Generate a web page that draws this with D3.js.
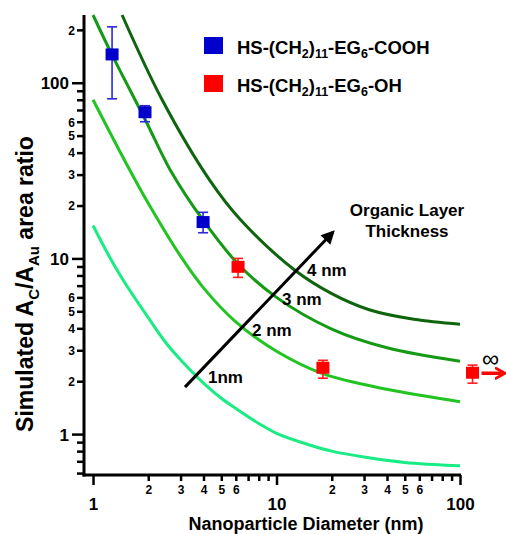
<!DOCTYPE html>
<html>
<head>
<meta charset="utf-8">
<script src="https://cdn.jsdelivr.net/npm/d3@7.9.0/dist/d3.min.js"></script>
<style>
  body { margin: 0; background: #fff; }
  svg { display: block; font-family: "Liberation Sans", Arial, sans-serif; font-weight: bold; }
</style>
</head>
<body>
<svg id="chart" width="506" height="534"></svg>
<script>
// curves: [diameter nm, simulated area ratio]
const curve1nm = [[1, 15.4], [1.25, 9.9], [1.5, 7.2], [2, 4.6], [2.5, 3.3], [3, 2.65], [4, 1.95], [5, 1.6], [6, 1.4], [8, 1.15], [10, 1.01], [15, 0.87], [20, 0.8], [30, 0.74], [50, 0.69], [100, 0.66]];
const curve2nm = [[1, 80], [1.5, 35.5], [2, 20.6], [3, 10.3], [4, 6.8], [6, 4.35], [10, 2.96], [18, 2.2], [40, 1.8], [100, 1.53]];
const curve3nm = [[1, 243], [1.27, 144], [1.92, 62], [2.63, 32], [3.98, 16.5], [6.17, 9.3], [10, 6.0], [20, 3.96], [40, 3.1], [100, 2.6]];
const curve4nm = [[1.44, 243], [2.38, 80], [4.34, 27.7], [6.33, 16.7], [12.6, 8.56], [20, 6.3], [32, 5.1], [56, 4.5], [100, 4.22]];
const curveNames = ['1nm', '2 nm', '3 nm', '4 nm'];

// measured points: diameter, ratio, error low, error high
const cooh = [[1.27, 144, 81, 208], [1.92, 67.5, 60, 74], [3.98, 16, 14, 18.3]];
const oh = [[6.17, 8.9, 7.8, 10.0], [17.9, 2.37, 2.08, 2.63], [117, 2.22, 1.95, 2.47]];

const xTicks = [1, 2, 3, 4, 5, 6, 7, 8, 9, 10, 20, 30, 40, 50, 60, 70, 80, 90, 100];
const yTicks = [0.6, 0.7, 0.8, 0.9, 1, 2, 3, 4, 5, 6, 7, 8, 9, 10, 20, 30, 40, 50, 60, 70, 80, 90, 100, 200];

// arrow for organic layer thickness, in data units
const arrowFrom = [3.17, 1.85];
const arrowTo = [20.3, 14.1];

const svg = d3.select('#chart');

const x = d3.scaleLog().domain([0.893, 100]).range([84, 460]);
const y = d3.scaleLog().domain([0.585, 243]).range([475, 15]);

const isMajor = v => Math.abs(Math.log10(v) - Math.round(Math.log10(v))) < 1e-9;
const lead = v => Math.round(v / Math.pow(10, Math.floor(Math.log10(v) + 1e-9)));
const tickText = v => isMajor(v) ? String(v) : (v > 1 && lead(v) <= 6 ? String(lead(v)) : '');

// curves
const colors = ['#19ec84', '#22c422', '#149a14', '#0e650e'];
const line = d3.line().x(d => x(d[0])).y(d => y(d[1])).curve(d3.curveCatmullRom.alpha(0.5));
[curve1nm, curve2nm, curve3nm, curve4nm].forEach((c, i) => {
  svg.append('path')
    .attr('d', line(c))
    .attr('fill', 'none')
    .attr('stroke', colors[i])
    .attr('stroke-width', 3);
});

// y axis
const yAxis = svg.append('g')
  .attr('transform', `translate(${x(0.893)},0)`)
  .call(d3.axisLeft(y).tickValues(yTicks).tickFormat(tickText).tickSizeOuter(0));
yAxis.select('.domain').attr('stroke-width', 3).attr('d', `M0,${y(243)}V${y(0.585) + 1.5}`);
yAxis.selectAll('.tick line').attr('stroke-width', 2.5).attr('x2', d => isMajor(d) ? -12 : -7);
yAxis.selectAll('.tick text')
  .attr('x', d => isMajor(d) ? -15 : -9)
  .attr('dy', '0.36em')
  .style('font-size', d => isMajor(d) ? '17px' : '12px')
  .style('font-family', '"Liberation Sans", Arial, sans-serif')
  .style('font-weight', 'bold')
  .attr('fill', '#000');

// x axis
const xAxis = svg.append('g')
  .attr('transform', `translate(0,${y(0.585)})`)
  .call(d3.axisBottom(x).tickValues(xTicks).tickFormat(tickText).tickSizeOuter(0));
xAxis.select('.domain').attr('stroke-width', 3).attr('d', `M${x(0.893) - 1.5},0H${x(100) + 1}`);
xAxis.selectAll('.tick line').attr('stroke-width', 2.5).attr('y2', d => isMajor(d) ? 10 : 6);
xAxis.selectAll('.tick text')
  .attr('y', d => isMajor(d) ? 23 : 10)
  .attr('dy', '0.71em')
  .style('font-size', d => isMajor(d) ? '17px' : '12px')
  .style('font-family', '"Liberation Sans", Arial, sans-serif')
  .style('font-weight', 'bold')
  .attr('fill', '#000');

// axis titles
svg.append('text')
  .attr('x', 306).attr('y', 530)
  .attr('text-anchor', 'middle')
  .style('font-size', '18px')
  .text('Nanoparticle Diameter (nm)');

const yTitle = svg.append('text')
  .attr('transform', 'translate(33,284) rotate(-90)')
  .attr('text-anchor', 'middle')
  .style('font-size', '23px');
yTitle.append('tspan').text('Simulated A');
yTitle.append('tspan').attr('dy', 6).style('font-size', '15px').text('C');
yTitle.append('tspan').attr('dy', -6).text('/A');
yTitle.append('tspan').attr('dy', 6).style('font-size', '15px').text('Au');
yTitle.append('tspan').attr('dy', -6).text(' area ratio');

// thickness arrow
svg.append('defs').append('marker')
  .attr('id', 'head').attr('viewBox', '0 0 10 10')
  .attr('refX', 8).attr('refY', 5)
  .attr('markerWidth', 5).attr('markerHeight', 4.5)
  .attr('orient', 'auto')
  .append('path').attr('d', 'M0,0L10,5L0,10z').attr('fill', '#000');
svg.append('line')
  .attr('x1', x(arrowFrom[0])).attr('y1', y(arrowFrom[1]))
  .attr('x2', x(arrowTo[0])).attr('y2', y(arrowTo[1]))
  .attr('stroke', '#000').attr('stroke-width', 3)
  .attr('marker-end', 'url(#head)');

const labelPos = [[208, 383], [252, 336], [282, 305], [307, 276]];
curveNames.forEach((n, i) => {
  svg.append('text').attr('x', labelPos[i][0]).attr('y', labelPos[i][1])
    .style('font-size', '17px').text(n);
});
svg.append('text').attr('x', 407).attr('y', 216).attr('text-anchor', 'middle')
  .style('font-size', '17px').text('Organic Layer');
svg.append('text').attr('x', 407).attr('y', 237).attr('text-anchor', 'middle')
  .style('font-size', '17px').text('Thickness');

// data points with error bars
function drawPoints(data, fill, bar) {
  const g = svg.append('g');
  data.forEach(d => {
    const cx = x(d[0]);
    g.append('line').attr('x1', cx).attr('x2', cx).attr('y1', y(d[2])).attr('y2', y(d[3]))
      .attr('stroke', bar).attr('stroke-width', 1.6);
    [d[2], d[3]].forEach(v => {
      g.append('line').attr('x1', cx - 5).attr('x2', cx + 5).attr('y1', y(v)).attr('y2', y(v))
        .attr('stroke', bar).attr('stroke-width', 1.6);
    });
    g.append('rect').attr('x', cx - 6.5).attr('y', y(d[1]) - 6.5)
      .attr('width', 13).attr('height', 12)
      .attr('fill', fill);
  });
}
drawPoints(cooh, '#0000cc', '#2a2ad8');
drawPoints(oh, '#ff0000', '#ff1a1a');

// infinity arrow for last point
const last = oh[oh.length - 1];
svg.append('defs').append('marker')
  .attr('id', 'redhead').attr('viewBox', '0 0 10 10')
  .attr('refX', 6).attr('refY', 5)
  .attr('markerWidth', 3.2).attr('markerHeight', 3.6)
  .attr('orient', 'auto')
  .append('path').attr('d', 'M0,0L9,5L0,10').attr('fill', 'none').attr('stroke', '#ff0000').attr('stroke-width', 2.5);
svg.append('line')
  .attr('x1', x(last[0]) + 9).attr('x2', x(last[0]) + 29)
  .attr('y1', y(last[1])).attr('y2', y(last[1]))
  .attr('stroke', '#ff0000').attr('stroke-width', 3.5)
  .attr('marker-end', 'url(#redhead)');
svg.append('text').attr('x', x(last[0]) + 18).attr('y', y(last[1]) - 6)
  .attr('text-anchor', 'middle')
  .style('font-weight', 'normal').style('font-size', '24px').text('∞');

// legend
const legend = [
  { color: '#0000cc', tail: '-COOH', y: 46 },
  { color: '#ff0000', tail: '-OH', y: 84 }
];
legend.forEach(l => {
  svg.append('rect').attr('x', 204).attr('y', l.y - 9).attr('width', 19).attr('height', 17).attr('fill', l.color);
  const t = svg.append('text').attr('x', 237).attr('y', l.y + 8).style('font-size', '18.5px');
  t.append('tspan').text('HS-(CH');
  t.append('tspan').attr('dy', 4).style('font-size', '12.5px').text('2');
  t.append('tspan').attr('dy', -4).text(')');
  t.append('tspan').attr('dy', 4).style('font-size', '12.5px').text('11');
  t.append('tspan').attr('dy', -4).text('-EG');
  t.append('tspan').attr('dy', 4).style('font-size', '12.5px').text('6');
  t.append('tspan').attr('dy', -4).text(l.tail);
});
</script>
</body>
</html>
